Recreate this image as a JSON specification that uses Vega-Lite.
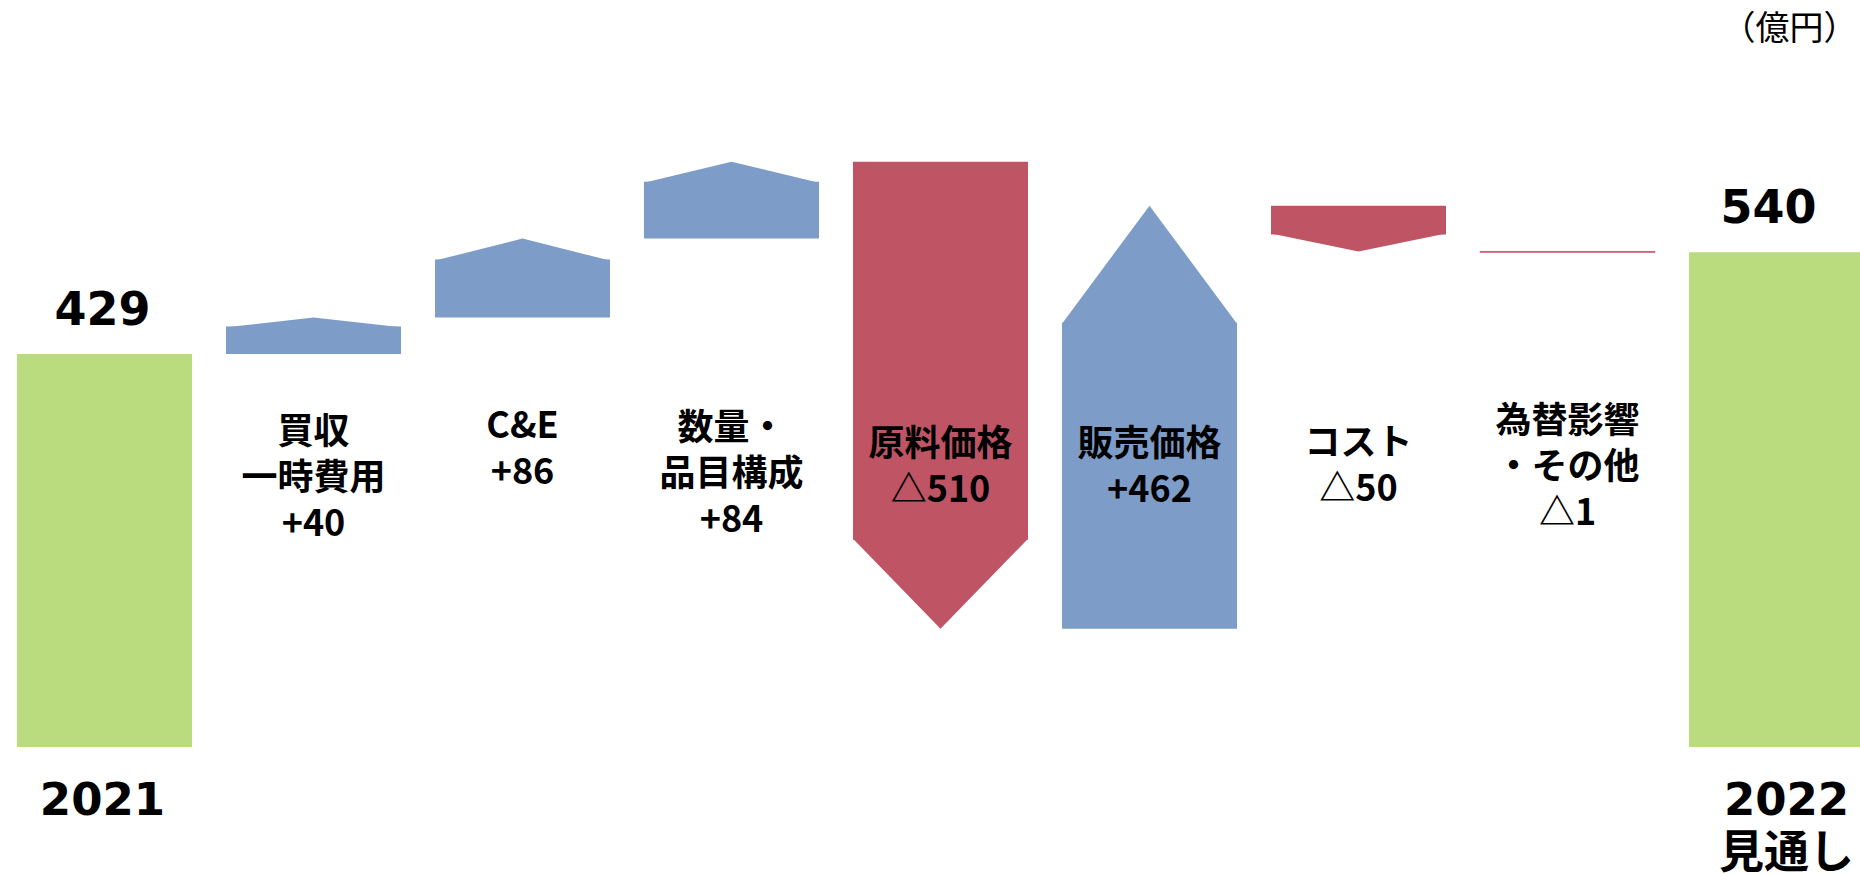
{
  "$schema": "https://vega.github.io/schema/vega-lite/v6.json",
  "width": 1860,
  "height": 875,
  "autosize": "none",
  "padding": 0,
  "background": "white",
  "config": {"view": {"stroke": null}},
  "params": [
    {"name": "head", "value": {"2021": 0, "買収": 10, "C&E": 22, "数量": 21, "原料価格": 90, "販売価格": 118, "コスト": 18, "為替": 0, "2022見通し": 0}},
    {"name": "ldy", "value": {"買収": -37, "C&E": -43, "数量": -41, "原料価格": -25, "販売価格": -25, "コスト": -26, "為替": -48}}
  ],
  "data": {
    "values": [
      {"item": "2021", "kind": "total", "start": 0, "end": 429, "label": "2021"},
      {"item": "買収", "kind": "increase", "start": 429, "end": 469, "label": "買収\n一時費用\n+40"},
      {"item": "C&E", "kind": "increase", "start": 469, "end": 555, "label": "C&E\n+86"},
      {"item": "数量", "kind": "increase", "start": 555, "end": 639, "label": "数量・\n品目構成\n+84"},
      {"item": "原料価格", "kind": "decrease", "start": 639, "end": 129, "label": "原料価格\n△510"},
      {"item": "販売価格", "kind": "increase", "start": 129, "end": 591, "label": "販売価格\n+462"},
      {"item": "コスト", "kind": "decrease", "start": 591, "end": 541, "label": "コスト\n△50"},
      {"item": "為替", "kind": "decrease", "start": 541, "end": 540, "label": "為替影響\n・その他\n△1"},
      {"item": "2022見通し", "kind": "total", "start": 0, "end": 540, "label": "2022\n見通し"}
    ]
  },
  "encoding": {
    "x": {
      "field": "item",
      "type": "nominal",
      "axis": null,
      "sort": null,
      "scale": {
        "domain": ["2021", "買収", "C&E", "数量", "原料価格", "販売価格", "コスト", "為替", "2022見通し"],
        "range": [17, 1864],
        "paddingInner": 0.1627,
        "paddingOuter": 0
      }
    }
  },
  "layer": [
    {
      "mark": {
        "type": "bar",
        "y2Offset": {"expr": "(datum.end > datum.start ? 1 : -1) * max(0, head[datum.item] - 1)"},
        "stroke": "#C4566A",
        "strokeWidth": {"expr": "datum.item == '為替' ? 0.8 : 0"}
      },
      "encoding": {
        "y": {"field": "start", "type": "quantitative", "axis": null, "scale": {"domain": [0, 815.5], "range": [747, 0], "nice": false, "zero": false}},
        "y2": {"field": "end"},
        "color": {
          "field": "kind",
          "type": "nominal",
          "legend": null,
          "scale": {"domain": ["total", "increase", "decrease"], "range": ["#BBDC7E", "#7E9CC8", "#BE5464"]}
        }
      }
    },
    {
      "transform": [{"filter": "head[datum.item] > 0"}],
      "mark": {"type": "point", "filled": true, "opacity": 1, "strokeWidth": 0, "size": 30625},
      "encoding": {
        "y": {"field": "end", "type": "quantitative"},
        "color": {"field": "kind", "type": "nominal", "legend": null},
        "shape": {
          "field": "item",
          "type": "nominal",
          "legend": null,
          "scale": {
            "domain": ["買収", "C&E", "数量", "原料価格", "販売価格", "コスト"],
            "range": [
              "M0,0L1,0.114L-1,0.114Z",
              "M0,0L1,0.2514L-1,0.2514Z",
              "M0,0L1,0.24L-1,0.24Z",
              "M0,0L1,-1.029L-1,-1.029Z",
              "M0,0L1,1.349L-1,1.349Z",
              "M0,0L1,-0.206L-1,-0.206Z"
            ]
          }
        }
      }
    },
    {
      "transform": [{"filter": "datum.kind == 'total'"}],
      "mark": {
        "type": "text",
        "font": "DejaVu Sans",
        "fontWeight": "bold",
        "fontSize": 46,
        "baseline": "middle",
        "dy": -43,
        "dx": {"expr": "datum.item == '2021' ? -2 : -8"},
        "color": "black"
      },
      "encoding": {
        "y": {"field": "end", "type": "quantitative"},
        "text": {"field": "end", "type": "quantitative"}
      }
    },
    {
      "transform": [{"filter": "datum.kind == 'total'"}],
      "mark": {
        "type": "text",
        "font": "DejaVu Sans, Noto Sans CJK JP",
        "fontWeight": "bold",
        "fontSize": 45,
        "baseline": "top",
        "lineBreak": "\n",
        "lineHeight": 53,
        "dy": 32,
        "dx": {"expr": "datum.item == '2021' ? -2 : 10"},
        "color": "black"
      },
      "encoding": {
        "y": {"datum": 0, "type": "quantitative"},
        "text": {"field": "label"}
      }
    },
    {
      "transform": [{"filter": "datum.kind != 'total'"}],
      "mark": {
        "type": "text",
        "font": "Noto Sans CJK JP",
        "fontWeight": "bold",
        "fontSize": 36,
        "baseline": "middle",
        "lineBreak": "\n",
        "lineHeight": 46,
        "dy": {"expr": "ldy[datum.item]"},
        "color": "black"
      },
      "encoding": {
        "y": {"datum": 302, "type": "quantitative"},
        "text": {"field": "label"}
      }
    },
    {
      "data": {"values": [{"unit": "（億円）"}]},
      "mark": {"type": "text", "font": "Noto Sans CJK JP", "fontSize": 34, "baseline": "middle", "dx": 13, "color": "black"},
      "encoding": {
        "x": {"datum": "2022見通し", "type": "nominal"},
        "y": {"datum": 783, "type": "quantitative"},
        "text": {"field": "unit"}
      }
    }
  ]
}
